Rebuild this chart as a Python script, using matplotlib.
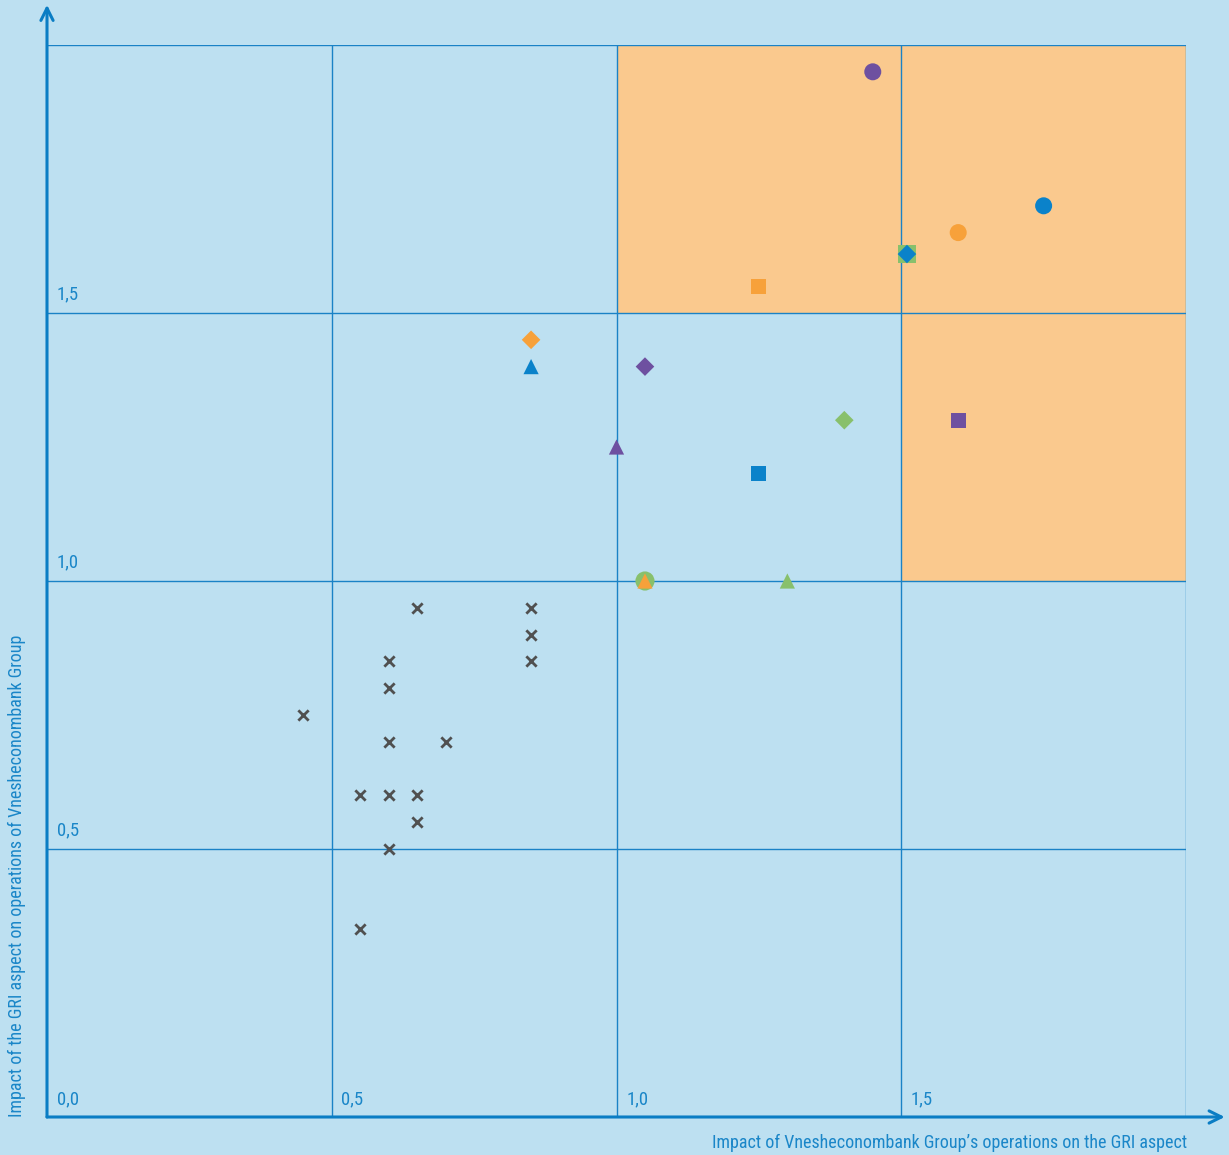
import matplotlib
matplotlib.use("Agg")
import matplotlib.pyplot as plt
from matplotlib.patches import Rectangle
from matplotlib import font_manager

names = set(f.name for f in font_manager.fontManager.ttflist)
cands = ['Liberation Sans Narrow', 'Roboto Condensed', 'Open Sans Condensed', 'DejaVu Sans Condensed']
fam = [c for c in cands if c in names]
plt.rcParams['font.family'] = fam + ['DejaVu Sans'] if fam else ['DejaVu Sans']
plt.rcParams['font.stretch'] = 'condensed'

# ---- data ----
purple_x = [1.45, 1.60, 1.05, 1.00]
purple_y = [1.95, 1.30, 1.40, 1.25]
blue_x = [1.75, 1.25, 1.51, 0.85]
blue_y = [1.70, 1.20, 1.61, 1.40]
orange_x = [1.60, 1.25, 0.85, 1.05]
orange_y = [1.65, 1.55, 1.45, 1.00]
green_x = [1.05, 1.51, 1.40, 1.30]
green_y = [1.00, 1.61, 1.30, 1.00]
shapes = ['o', 's', 'D', '^']

gray_x = [0.65, 0.85, 0.85, 0.85, 0.60, 0.60, 0.45, 0.60, 0.70, 0.55, 0.60, 0.65, 0.65, 0.60, 0.55]
gray_y = [0.95, 0.95, 0.90, 0.85, 0.85, 0.80, 0.75, 0.70, 0.70, 0.60, 0.60, 0.60, 0.55, 0.50, 0.35]

# highlighted zones (x0, y0, width, height)
zones = [(1.0, 1.5, 1.0, 0.5), (1.5, 1.0, 0.5, 0.5)]

grid_vals = [0.5, 1.0, 1.5, 2.0]
xtick_vals = [0.0, 0.5, 1.0, 1.5]
xtick_labels = ['0,0', '0,5', '1,0', '1,5']
ytick_vals = [0.5, 1.0, 1.5]
ytick_labels = ['0,5', '1,0', '1,5']

xlabel = "Impact of Vnesheconombank Group’s operations on the GRI aspect"
ylabel = "Impact of the GRI aspect on operations of Vnesheconombank Group"

# ---- style ----
BG = '#BDE0F1'
ZONE = '#FAC98E'
GRID = '#1A82C6'
AXIS = '#0A7DC4'
TEXT = '#1A86C8'
C_PURPLE = '#6E50A0'
C_BLUE = '#0A82CA'
C_ORANGE = '#F7A13A'
C_GREEN = '#88C06C'
C_GRAY = '#505050'

W, H = 1229, 1155
fig = plt.figure(figsize=(W / 100, H / 100), dpi=100)
fig.patch.set_facecolor(BG)
ax = fig.add_axes([47 / W, (H - 1117) / H, 1139 / W, 1072 / H])
ax.set_facecolor(BG)
ax.set_xlim(0, 2)
ax.set_ylim(0, 2)
for s in ax.spines.values():
    s.set_visible(False)
ax.set_xticks([])
ax.set_yticks([])

for (x0, y0, w, h) in zones:
    ax.add_patch(Rectangle((x0, y0), w, h, facecolor=ZONE, edgecolor='none', zorder=1))

for v in grid_vals:
    ax.axvline(v, color=GRID, lw=1.0, zorder=2)
    ax.axhline(v, color=GRID, lw=1.0, zorder=2)

# axes arrows
ax.annotate('', xy=(0, 2.075), xytext=(0, 0),
            arrowprops=dict(arrowstyle='->', lw=2.2, color=AXIS, mutation_scale=22,
                            shrinkA=0, shrinkB=0),
            annotation_clip=False, zorder=5)
ax.annotate('', xy=(2.068, 0), xytext=(0, 0),
            arrowprops=dict(arrowstyle='->', lw=2.2, color=AXIS, mutation_scale=22,
                            shrinkA=0, shrinkB=0),
            annotation_clip=False, zorder=5)

# tick labels inside cells
for v, lab in zip(xtick_vals, xtick_labels):
    ax.annotate(lab, xy=(v, 0), xytext=(7, 6), textcoords='offset points',
                color=TEXT, fontsize=13.5, ha='left', va='bottom')
for v, lab in zip(ytick_vals, ytick_labels):
    ax.annotate(lab, xy=(0, v), xytext=(7, 7), textcoords='offset points',
                color=TEXT, fontsize=13.5, ha='left', va='bottom')

# markers
sizes = {'o': 150, 's': 120, 'D': 90, '^': 120}
for xs, ys, col in [(green_x, green_y, C_GREEN), (purple_x, purple_y, C_PURPLE),
                    (orange_x, orange_y, C_ORANGE), (blue_x, blue_y, C_BLUE)]:
    for x, y, m in zip(xs, ys, shapes):
        s = sizes[m]
        if col == C_GREEN and m == 'o':
            s = 190
        if col == C_GREEN and m == 's':
            s = 170
        ax.scatter([x], [y], marker=m, s=s, color=col, edgecolors='none', zorder=4)

ax.scatter(gray_x, gray_y, marker='x', s=55, color=C_GRAY, linewidths=2.0, zorder=4)

fig.text(17 / W, (H - 1117) / H, ylabel, rotation=90, ha='center', va='bottom',
         color=TEXT, fontsize=13)
fig.text(1187 / W, 1 - 1143 / H, xlabel, ha='right', va='center',
         color=TEXT, fontsize=13)

fig.savefig('out.png', dpi=100, facecolor=BG)
